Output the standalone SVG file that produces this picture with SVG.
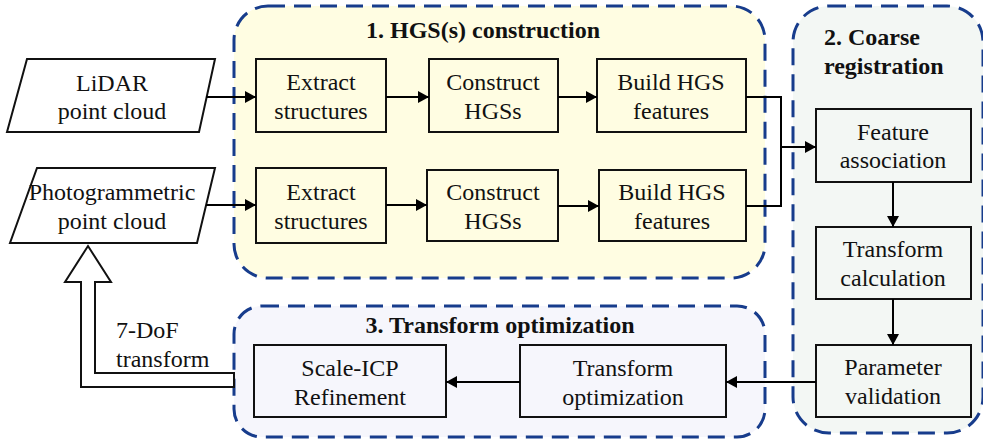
<svg xmlns="http://www.w3.org/2000/svg" width="983" height="443" viewBox="0 0 983 443" font-family="Liberation Serif, Times New Roman, Times, serif">
<defs>
<marker id="ah" markerUnits="userSpaceOnUse" markerWidth="12" markerHeight="12" refX="11" refY="6" orient="auto">
<path d="M0,0 L11,6 L0,12 Z" fill="#000"/>
</marker>
<style>
.grp{stroke:#173c8c;stroke-width:3;stroke-dasharray:17 9}
.box{stroke:#111;stroke-width:2}
.t{font-size:24px;fill:#111;text-anchor:middle}
.l{font-size:24px;fill:#111;text-anchor:start}
.h{font-size:24px;font-weight:bold;fill:#111}
.c{stroke:#000;stroke-width:2;fill:none}
</style>
</defs>
<rect width="983" height="443" fill="#fff"/>
<g id="group1">
<rect class="grp" x="234" y="6" width="531" height="272" rx="34" fill="#fffde2"/>
<text class="h" x="483" y="38" text-anchor="middle">1. HGS(s) construction</text>
</g>
<g id="group2">
<rect class="grp" x="793" y="6" width="190" height="427" rx="36" fill="#f3f7f4"/>
<text class="h" x="824" y="45">2. Coarse</text>
<text class="h" x="824" y="74">registration</text>
</g>
<g id="group3">
<rect class="grp" x="234" y="306" width="531" height="131" rx="28" fill="#f6f6fc"/>
<text class="h" x="500" y="333" text-anchor="middle">3. Transform optimization</text>
</g>
<g id="lidar">
<polygon class="box" points="27,59 215,59 199,132 7,132" fill="#fff"/>
<text class="t" x="112" y="91">LiDAR</text>
<text class="t" x="112" y="119">point cloud</text>
</g>
<g id="photo">
<polygon class="box" points="37,168 215,168 197,243 10,243" fill="#fff"/>
<text class="t" x="112" y="200">Photogrammetric</text>
<text class="t" x="112" y="229">point cloud</text>
</g>
<g id="extract1">
<rect class="box" x="256" y="59" width="130" height="73" fill="#fffde2"/>
<text class="t" x="321" y="90">Extract</text>
<text class="t" x="321" y="119">structures</text>
</g>
<g id="construct1">
<rect class="box" x="429" y="59" width="129" height="73" fill="#fffde2"/>
<text class="t" x="493" y="90">Construct</text>
<text class="t" x="493" y="119">HGSs</text>
</g>
<g id="build1">
<rect class="box" x="597" y="59" width="149" height="73" fill="#fffde2"/>
<text class="t" x="671" y="90">Build HGS</text>
<text class="t" x="671" y="119">features</text>
</g>
<g id="extract2">
<rect class="box" x="256" y="168" width="130" height="75" fill="#fffde2"/>
<text class="t" x="321" y="200">Extract</text>
<text class="t" x="321" y="229">structures</text>
</g>
<g id="construct2">
<rect class="box" x="427" y="170" width="131" height="71" fill="#fffde2"/>
<text class="t" x="493" y="200">Construct</text>
<text class="t" x="493" y="229">HGSs</text>
</g>
<g id="build2">
<rect class="box" x="599" y="170" width="147" height="71" fill="#fffde2"/>
<text class="t" x="672" y="200">Build HGS</text>
<text class="t" x="672" y="229">features</text>
</g>
<g id="feature">
<rect class="box" x="816" y="109" width="155" height="73" fill="#f3f7f4"/>
<text class="t" x="893" y="140">Feature</text>
<text class="t" x="893" y="168">association</text>
</g>
<g id="calc">
<rect class="box" x="816" y="227" width="155" height="72" fill="#f3f7f4"/>
<text class="t" x="893" y="257">Transform</text>
<text class="t" x="893" y="286">calculation</text>
</g>
<g id="validation">
<rect class="box" x="816" y="345" width="155" height="72" fill="#f3f7f4"/>
<text class="t" x="893" y="375">Parameter</text>
<text class="t" x="893" y="404">validation</text>
</g>
<g id="optim">
<rect class="box" x="520" y="345" width="206" height="72" fill="#f6f6fc"/>
<text class="t" x="623" y="376">Transform</text>
<text class="t" x="623" y="405">optimization</text>
</g>
<g id="icp">
<rect class="box" x="254" y="345" width="192" height="72" fill="#f6f6fc"/>
<text class="t" x="350" y="376">Scale-ICP</text>
<text class="t" x="350" y="405">Refinement</text>
</g>
<g id="connectors">
<line class="c" x1="206" y1="97" x2="256" y2="97" marker-end="url(#ah)"/>
<line class="c" x1="206" y1="205" x2="256" y2="205" marker-end="url(#ah)"/>
<line class="c" x1="386" y1="97" x2="429" y2="97" marker-end="url(#ah)"/>
<line class="c" x1="386" y1="205" x2="427" y2="205" marker-end="url(#ah)"/>
<line class="c" x1="558" y1="97" x2="597" y2="97" marker-end="url(#ah)"/>
<line class="c" x1="558" y1="206" x2="599" y2="206" marker-end="url(#ah)"/>
<polyline class="c" points="746,97 781,97 781,206 746,206"/>
<line class="c" x1="781" y1="147" x2="816" y2="147" marker-end="url(#ah)"/>
<line class="c" x1="893" y1="182" x2="893" y2="227" marker-end="url(#ah)"/>
<line class="c" x1="893" y1="299" x2="893" y2="345" marker-end="url(#ah)"/>
<line class="c" x1="816" y1="382" x2="726" y2="382" marker-end="url(#ah)"/>
<line class="c" x1="520" y1="382" x2="446" y2="382" marker-end="url(#ah)"/>
<polygon points="234,387 81,387 81,282 65,282 88,246 111,282 95,282 95,373 234,373" fill="#fff" stroke="#111" stroke-width="2"/>
<text class="l" x="116" y="338">7-DoF</text>
<text class="l" x="116" y="367">transform</text>
</g>
</svg>
